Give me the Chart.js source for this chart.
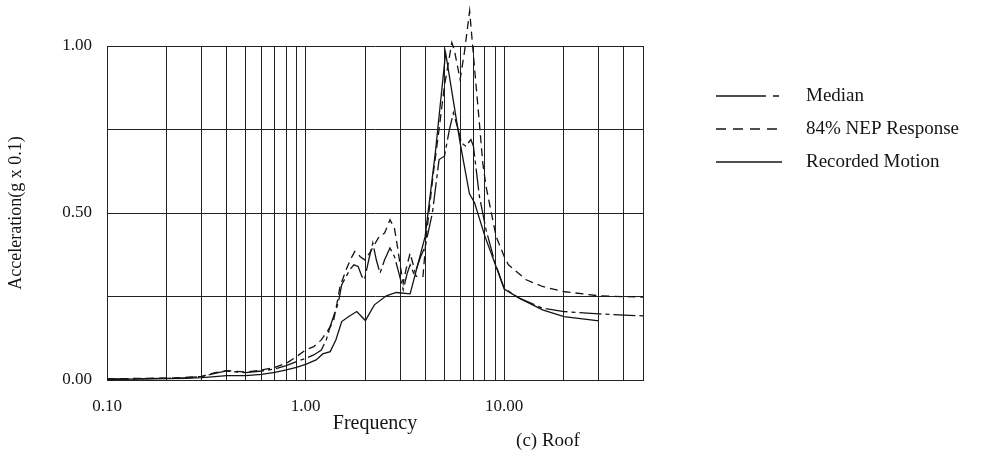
<!DOCTYPE html>
<html>
<head>
<meta charset="utf-8">
<script src="https://cdn.jsdelivr.net/npm/chart.js@4.4.0/dist/chart.umd.min.js"></script>
<style>
  html, body { margin: 0; padding: 0; background: #fff; }
  #wrap { width: 981px; height: 457px; }
</style>
</head>
<body>
<div id="wrap"><canvas id="roof-chart" width="981" height="457"></canvas></div>
<script>
// values: frequency (Hz) / acceleration (g x 0.1)
const median_freq = [0.1, 0.15, 0.2, 0.25, 0.3, 0.35, 0.4, 0.45, 0.5, 0.6, 0.7, 0.8, 0.9, 1.0, 1.1, 1.2, 1.27, 1.33, 1.4, 1.46,
	1.52, 1.6, 1.67, 1.75, 1.84, 1.92, 1.98, 2.08, 2.18, 2.27, 2.37, 2.5, 2.66, 2.8, 2.95, 3.1, 3.25, 3.36, 3.5, 3.6,
	3.8, 4.0, 4.35, 4.7, 5.0, 5.3, 5.55, 5.8, 6.1, 6.4, 6.8, 7.0, 7.5, 8.1, 9.0, 10.0, 11.9, 15.6, 20, 30, 50];
const median_acc = [0.003, 0.004, 0.005, 0.007, 0.01, 0.02, 0.027, 0.024, 0.022, 0.027, 0.033, 0.043, 0.055, 0.065, 0.075, 0.09, 0.12, 0.16, 0.2, 0.23,
	0.285, 0.31, 0.33, 0.345, 0.34, 0.31, 0.30, 0.36, 0.41, 0.36, 0.32, 0.36, 0.395, 0.37, 0.32, 0.27, 0.32, 0.345, 0.32, 0.33,
	0.37, 0.40, 0.50, 0.66, 0.67, 0.75, 0.80, 0.76, 0.71, 0.70, 0.72, 0.70, 0.55, 0.45, 0.35, 0.275, 0.245, 0.215, 0.205, 0.198, 0.192];

const nep84_freq = [0.1, 0.15, 0.2, 0.25, 0.3, 0.35, 0.4, 0.45, 0.5, 0.6, 0.7, 0.8, 0.9, 1.0, 1.1, 1.2, 1.3, 1.38, 1.44, 1.49,
	1.6, 1.68, 1.77, 1.88, 1.98, 2.1, 2.22, 2.35, 2.5, 2.66, 2.8, 2.9, 3.0, 3.1, 3.2, 3.36, 3.5, 3.6, 3.9, 4.05,
	4.4, 4.7, 5.0, 5.45, 5.6, 6.0, 6.3, 6.7, 7.1, 7.5, 7.8, 8.1, 9.1, 10.0, 10.5, 12.9, 15.6, 19.8, 30, 50];
const nep84_acc = [0.003, 0.005, 0.006, 0.008, 0.011, 0.022, 0.028, 0.026, 0.024, 0.03, 0.038, 0.05, 0.07, 0.09, 0.10, 0.12, 0.15, 0.175, 0.23, 0.28,
	0.33, 0.36, 0.385, 0.37, 0.36, 0.38, 0.405, 0.43, 0.44, 0.48, 0.455, 0.40, 0.34, 0.29, 0.33, 0.38, 0.34, 0.31, 0.31, 0.43,
	0.62, 0.75, 0.88, 1.01, 0.99, 0.90, 0.98, 1.105, 0.93, 0.77, 0.65, 0.58, 0.43, 0.37, 0.345, 0.30, 0.28, 0.265, 0.252, 0.248];

const recorded_freq = [0.1, 0.15, 0.2, 0.25, 0.3, 0.35, 0.4, 0.5, 0.6, 0.7, 0.8, 0.9, 1.0, 1.13, 1.22, 1.33, 1.42, 1.52, 1.65, 1.81,
	2.0, 2.22, 2.55, 2.86, 3.36, 4.0, 4.5, 5.07, 6.0, 6.68, 7.1, 8.0, 9.1, 10.0, 11.9, 15.6, 20, 30];
const recorded_acc = [0.002, 0.003, 0.004, 0.005, 0.007, 0.01, 0.013, 0.013, 0.017, 0.023, 0.03, 0.038, 0.047, 0.06, 0.078, 0.085, 0.12, 0.175, 0.19, 0.205,
	0.178, 0.225, 0.252, 0.262, 0.258, 0.43, 0.68, 0.98, 0.71, 0.558, 0.53, 0.43, 0.34, 0.272, 0.245, 0.21, 0.19, 0.177];

// grid lines at every 1..9 step of each decade, labels only on the decades
const x_grid_values = [0.1, 0.2, 0.3, 0.4, 0.5, 0.6, 0.7, 0.8, 0.9,
	1, 2, 3, 4, 5, 6, 7, 8, 9,
	10, 20, 30, 40, 50];
const x_tick_labels = [0.1, 1, 10];
const y_tick_labels = [0, 0.5, 1];

const serif = "'Liberation Serif', 'DejaVu Serif', serif";
const ink = '#141414';

const toPoints = (xs, ys) => xs.map((x, i) => ({ x: x, y: ys[i] }));

// legend and caption drawn to the right / below the plot box
const sideLegend = {
	id: 'sideLegend',
	afterDraw(chart) {
		const c = chart.ctx;
		const rows = [96, 129, 162];
		c.save();
		chart.data.datasets.forEach((ds, i) => {
			c.strokeStyle = ds.borderColor;
			c.lineWidth = ds.borderWidth;
			c.setLineDash(ds.legendDash || ds.borderDash || []);
			c.beginPath();
			c.moveTo(716, rows[i]);
			c.lineTo(782, rows[i]);
			c.stroke();
			c.setLineDash([]);
			c.fillStyle = ink;
			c.font = '19px ' + serif;
			c.textBaseline = 'middle';
			c.fillText(ds.label, 806, rows[i]);
		});
		c.font = '19px ' + serif;
		c.textAlign = 'center';
		c.fillText('(c) Roof', 548, 441);
		c.restore();
	}
};

const ctx = document.getElementById('roof-chart').getContext('2d');

new Chart(ctx, {
	type: 'line',
	data: {
		datasets: [{
			label: 'Median',
			data: toPoints(median_freq, median_acc),
			borderColor: ink,
			borderWidth: 1.3,
			borderDash: [22, 4, 4, 4],
			legendDash: [50, 7, 6, 10],
			pointRadius: 0,
			fill: false,
			clip: false
		},
		{
			label: '84% NEP Response',
			data: toPoints(nep84_freq, nep84_acc),
			borderColor: ink,
			borderWidth: 1.3,
			borderDash: [8, 5],
			legendDash: [10, 7],
			pointRadius: 0,
			fill: false,
			clip: false
		},
		{
			label: 'Recorded Motion',
			data: toPoints(recorded_freq, recorded_acc),
			borderColor: ink,
			borderWidth: 1.3,
			pointRadius: 0,
			fill: false,
			clip: false
		}]
	},
	options: {
		responsive: false,
		animation: false,
		layout: { padding: { left: 5, top: 46, right: 338, bottom: 21 } },
		plugins: {
			legend: { display: false },
			tooltip: { enabled: false }
		},
		scales: {
			x: {
				type: 'logarithmic',
				min: 0.1,
				max: 50,
				afterBuildTicks: (axis) => {
					axis.ticks = x_grid_values.map(v => ({ value: v }));
				},
				afterFit: (axis) => { axis.height = 56; },
				grid: { color: '#222', lineWidth: 1, drawTicks: false },
				border: { color: '#222', width: 1 },
				ticks: {
					autoSkip: false,
					maxRotation: 0,
					padding: 16,
					color: ink,
					font: { family: serif, size: 17 },
					callback: (value) => x_tick_labels.includes(value) ? value.toFixed(2) : ''
				},
				title: {
					display: true,
					text: 'Frequency',
					color: ink,
					padding: 0,
					font: { family: serif, size: 20 }
				}
			},
			y: {
				min: 0,
				max: 1,
				afterFit: (axis) => { axis.width = 102; },
				grid: { color: '#222', lineWidth: 1, drawTicks: false },
				border: { color: '#222', width: 1 },
				ticks: {
					stepSize: 0.25,
					padding: 15,
					color: ink,
					font: { family: serif, size: 17 },
					callback: (value) => y_tick_labels.includes(value) ? value.toFixed(2) : ''
				},
				title: {
					display: true,
					text: 'Acceleration(g x 0.1)',
					color: ink,
					padding: 0,
					font: { family: serif, size: 18 }
				}
			}
		}
	},
	plugins: [sideLegend]
});
</script>
</body>
</html>
